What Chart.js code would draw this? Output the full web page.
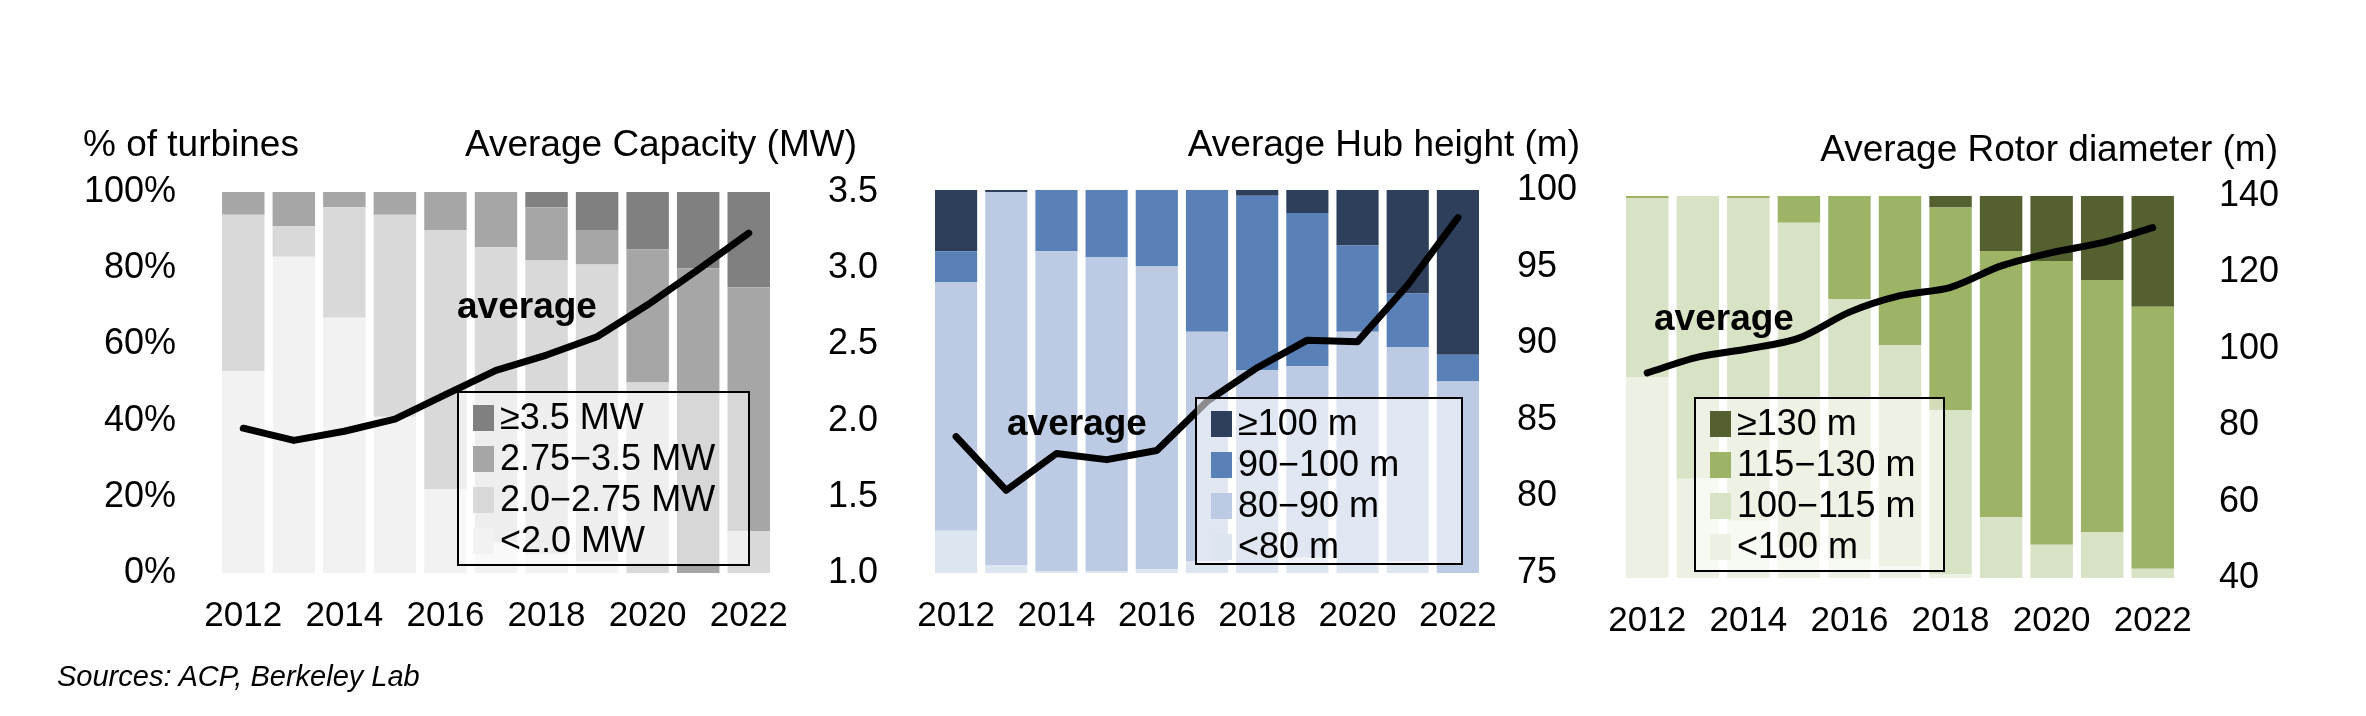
<!DOCTYPE html>
<html><head><meta charset="utf-8">
<script src="https://cdn.jsdelivr.net/npm/chart.js@4"></script>
<style>
body{margin:0;width:2366px;height:716px;background:#fff;position:relative;overflow:hidden;font-family:"Liberation Sans",Arial,sans-serif;}
canvas{position:absolute;top:0;}
.t{position:absolute;font-size:37px;color:#000;white-space:nowrap;line-height:1;}
.avg{position:absolute;font-size:37px;font-weight:bold;color:#000;line-height:1;}
.lg{position:absolute;border:2px solid #000;background:rgba(255,255,255,0.55);box-sizing:border-box;padding:3px 0 0 14px;}
.lg div{font-size:36px;height:41px;line-height:41px;white-space:nowrap;}
.lg span{display:inline-block;width:21px;height:26px;margin-right:6px;vertical-align:-2px;}
</style></head><body>
<canvas id="c1" width="900" height="716" style="left:0"></canvas>
<canvas id="c2" width="700" height="716" style="left:880px"></canvas>
<canvas id="c3" width="796" height="716" style="left:1570px"></canvas>
<div class="t" style="left:83px;top:125px">% of turbines</div>
<div class="t" style="right:1509px;top:125px">Average Capacity (MW)</div>
<div class="t" style="right:786px;top:125px">Average Hub height (m)</div>
<div class="t" style="right:88px;top:130px">Average Rotor diameter (m)</div>
<div class="avg" style="left:457px;top:287px">average</div>
<div class="avg" style="left:1007px;top:404px">average</div>
<div class="avg" style="left:1654px;top:299px">average</div>
<div class="t" style="left:57px;top:662px;font-style:italic;font-size:29px">Sources: ACP, Berkeley Lab</div>
<div id="lg1" class="lg" style="left:457px;top:391px;width:293px;height:175px"></div>
<div id="lg2" class="lg" style="left:1195px;top:397px;width:268px;height:168px"></div>
<div id="lg3" class="lg" style="left:1694px;top:397px;width:251px;height:175px"></div>
<script>
const years=['2012','2013','2014','2015','2016','2017','2018','2019','2020','2021','2022'];
// Panel 1: capacity
const capLabels=['<2.0 MW','2.0\u22122.75 MW','2.75\u22123.5 MW','\u22653.5 MW'];
const capColors=['#f2f2f2','#d9d9d9','#a6a6a6','#808080'];
const capLt2=[53,83,67,41,22,8,5,3,0,0,0];
const cap2to275=[41,8,29,53,68,77.5,77,78,50,0,11];
const cap275to35=[6,9,4,6,10,14.5,14,9,35,80,64];
const capGe35=[0,0,0,0,0,0,4,10,15,20,25];
const capAvg=[1.95,1.87,1.93,2.01,2.17,2.33,2.43,2.55,2.76,2.99,3.23];
// Panel 2: hub height
const hubLabels=['<80 m','80\u221290 m','90\u2212100 m','\u2265100 m'];
const hubColors=['#dde5f0','#bccbe3','#5a80b8','#2e3f5c'];
const hubLt80=[11,2,0.5,0.5,1,3,2,4,2,3,0];
const hub80to90=[65,97.5,83.5,82,79,60,51,50,61,56,50];
const hub90to100=[8,0,16,17.5,20,37,45.5,40,22.5,14,7];
const hubGe100=[16,0.5,0,0,0,0,1.5,6,14.5,27,43];
const hubAvg=[83.9,80.4,82.8,82.4,83.0,86.2,88.4,90.2,90.1,93.8,98.2];
// Panel 3: rotor diameter
const rotLabels=['<100 m','100\u2212115 m','115\u2212130 m','\u2265130 m'];
const rotColors=['#edf1e4','#d8e2c4','#9db466','#556030'];
const rotLt100=[52.5,26,15,8,5,3,1,0,0,0,0];
const rot100to115=[47,74,84.5,85,68,58,43,16,8.7,12,2.4];
const rot115to130=[0.5,0,0.5,7,27,39,53,69.6,74.3,66,68.6];
const rotGe130=[0,0,0,0,0,0,3,14.4,17,22,29];
const rotAvg=[93.7,97.8,100,102.8,109.6,113.9,116.1,121.7,125.2,127.8,131.7];

const F={family:'"Liberation Sans", Arial, sans-serif',size:36};
const FX={family:'"Liberation Sans", Arial, sans-serif',size:35};
function make(id,series,labels,colors,avg,opt){
  const ds=series.map((d,i)=>({type:'bar',label:labels[i],data:d,backgroundColor:colors[i],stack:'s',yAxisID:'y',order:2,barPercentage:0.84,categoryPercentage:1}));
  ds.push({type:'line',label:'average',data:avg,borderColor:'#000',borderWidth:7,pointRadius:0,yAxisID:'y2',order:1,tension:opt.tension||0,borderCapStyle:'round',borderJoinStyle:'round'});
  const yScale={stacked:true,display:opt.left,position:'left',min:0,max:100,grid:{display:false},border:{display:false},ticks:{stepSize:20,font:F,color:'#000',padding:opt.leftPad||30,callback:v=>v+'%'}};
  if(opt.left) yScale.afterFit=s=>{s.width=opt.leftW;};
  new Chart(document.getElementById(id),{data:{labels:years,datasets:ds},options:{
    responsive:false,animation:false,devicePixelRatio:1,
    layout:{padding:{top:opt.top,left:opt.padLeft||0,right:0,bottom:0}},
    plugins:{legend:{display:false},tooltip:{enabled:false}},
    scales:{
      x:{stacked:true,grid:{display:false},border:{display:false},ticks:{font:FX,color:'#000',padding:14,autoSkip:false,maxRotation:0,callback:(v,i)=>i%2===0?years[i]:''},afterFit:s=>{s.height=716-opt.bottom;}},
      y:yScale,
      y2:{position:'right',min:opt.min,max:opt.max,grid:{display:false,drawOnChartArea:false},border:{display:false},ticks:{stepSize:opt.step,font:F,color:'#000',padding:opt.rpad,callback:v=>opt.dec?Number(v).toFixed(1):v},afterFit:s=>{s.width=opt.rightW;}}
    }}});
  const lg=document.getElementById('lg'+id.slice(1));
  let h='';
  for(let i=labels.length-1;i>=0;i--){h+='<div><span style="background:'+colors[i]+'"></span>'+labels[i]+'</div>';}
  lg.innerHTML=h;
}
make('c1',[capLt2,cap2to275,cap275to35,capGe35],capLabels,capColors,capAvg,{top:192,bottom:573,left:true,leftW:218,leftPad:34,rightW:126,rpad:46,min:1,max:3.5,step:0.5,dec:true});
make('c2',[hubLt80,hub80to90,hub90to100,hubGe100],hubLabels,hubColors,hubAvg,{top:190,bottom:573,left:false,padLeft:51,rightW:97,rpad:26,min:75,max:100,step:5});
make('c3',[rotLt100,rot100to115,rot115to130,rotGe130],rotLabels,rotColors,rotAvg,{top:196,bottom:578,left:false,padLeft:52,rightW:188,rpad:33,min:40,max:140,step:20,tension:0.3});
</script></body></html>
